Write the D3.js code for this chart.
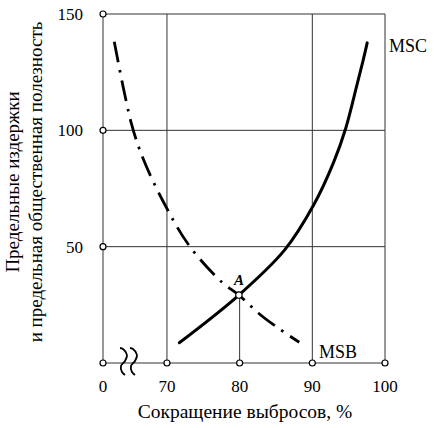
<!DOCTYPE html>
<html>
<head>
<meta charset="utf-8">
<script src="https://cdn.jsdelivr.net/npm/d3@7"></script>
<style>
  body { margin: 0; background: #fff; }
  svg { display: block; }
  text { font-family: "Liberation Serif", "Times New Roman", "DejaVu Serif", serif; }
</style>
</head>
<body>
<svg id="chart" width="434" height="428"></svg>
<script>
// x ticks (the 0 tick sits at the axis break)
var xTicks = [0, 70, 80, 90, 100];
var yTicks = [0, 50, 100, 150];

// marginal social cost
var mscX = [71.7, 79.9, 86.2, 90.2, 92.9, 94.6, 96.1, 97.0, 97.55];
var mscY = [8.7, 29.2, 48.6, 68.0, 86.0, 100.9, 119.0, 130.2, 137.6];

// marginal social benefit
var msbX = [62.75, 65.1, 66.7, 69.5, 73.0, 77.5, 79.9, 82.6, 85.3, 88.2];
var msbY = [138.1, 103.0, 88.0, 69.3, 50.7, 34.9, 29.2, 21.4, 15.0, 8.9];

// equilibrium point A
var pointA = {x: 79.9, y: 29.2};

var xBreak = 61.2;  // everything left of this collapses onto the y axis

var svg = d3.select("#chart");

var x = d3.scaleLinear().domain([0, xBreak, 100]).range([103, 103, 385]);
var y = d3.scaleLinear().domain([0, 150]).range([363, 14]);

var grid = svg.append("g")
    .attr("stroke", "#333")
    .attr("stroke-width", 1);

// horizontal grid lines
grid.selectAll("line.h")
    .data(yTicks)
    .join("line")
      .attr("class", "h")
      .attr("x1", x(0)).attr("x2", x(100))
      .attr("y1", d => y(d)).attr("y2", d => y(d));

// vertical grid lines (80 only rises to point A)
grid.selectAll("line.v")
    .data(xTicks)
    .join("line")
      .attr("class", "v")
      .attr("x1", d => x(d)).attr("x2", d => x(d))
      .attr("y1", y(0))
      .attr("y2", d => d == 80 ? y(pointA.y) : y(150));

// break marks on the x axis
var squiggle = d3.line().curve(d3.curveCatmullRom);
var sq = [[-4, -14], [-1, -13], [3, -7], [1, -1], [-3, 4], [-2, 10], [1, 13]];
svg.append("g")
    .attr("fill", "none")
    .attr("stroke", "#000")
    .attr("stroke-width", 1.8)
  .selectAll("path")
    .data([124, 134])
    .join("path")
      .attr("d", cx => squiggle(sq.map(p => [cx + p[0], y(0) - 1 + p[1]])));

// curves
var line = d3.line()
    .x(d => x(d[0]))
    .y(d => y(d[1]))
    .curve(d3.curveCatmullRom.alpha(0.5));

svg.append("path")
    .datum(d3.zip(mscX, mscY))
    .attr("fill", "none")
    .attr("stroke", "#000")
    .attr("stroke-width", 3)
    .attr("stroke-linecap", "round")
    .attr("d", line);

svg.append("path")
    .datum(d3.zip(msbX, msbY))
    .attr("fill", "none")
    .attr("stroke", "#000")
    .attr("stroke-width", 2.8)
    .attr("stroke-dasharray", "21,8,2.5,8")
    .attr("d", line);

// tick circles
var circles = svg.append("g")
    .attr("fill", "#fff")
    .attr("stroke", "#000")
    .attr("stroke-width", 1.2);

circles.selectAll("circle.y")
    .data(yTicks)
    .join("circle")
      .attr("class", "y")
      .attr("cx", x(0))
      .attr("cy", d => y(d))
      .attr("r", 3);

circles.selectAll("circle.x")
    .data(xTicks.slice(1))
    .join("circle")
      .attr("class", "x")
      .attr("cx", d => x(d))
      .attr("cy", y(0))
      .attr("r", 3);

circles.append("circle")
    .attr("cx", x(pointA.x))
    .attr("cy", y(pointA.y))
    .attr("r", 3.2);

// tick labels
svg.append("g")
    .attr("font-size", 17)
    .attr("text-anchor", "end")
  .selectAll("text")
    .data(yTicks.slice(1))
    .join("text")
      .attr("x", 83)
      .attr("y", d => y(d) + 6)
      .text(d => d);

svg.append("g")
    .attr("font-size", 17)
    .attr("text-anchor", "middle")
  .selectAll("text")
    .data(xTicks)
    .join("text")
      .attr("x", d => x(d))
      .attr("y", 392)
      .text(d => d);

// curve labels
svg.append("text")
    .attr("x", 389).attr("y", 52)
    .attr("font-size", 18)
    .text("MSC");

svg.append("text")
    .attr("x", 319).attr("y", 358)
    .attr("font-size", 18)
    .text("MSB");

svg.append("text")
    .attr("x", x(pointA.x)).attr("y", 285)
    .attr("text-anchor", "middle")
    .attr("font-size", 15)
    .attr("font-style", "italic").attr("font-weight", "bold")
    .text("A");

// axis titles
svg.append("text")
    .attr("x", 245).attr("y", 418)
    .attr("text-anchor", "middle")
    .attr("font-size", 19.5)
    .text("Сокращение выбросов, %");

svg.append("text")
    .attr("transform", "translate(19,182) rotate(-90)")
    .attr("text-anchor", "middle")
    .attr("font-size", 19)
    .text("Предельные издержки");

svg.append("text")
    .attr("transform", "translate(42,182) rotate(-90)")
    .attr("text-anchor", "middle")
    .attr("font-size", 19)
    .text("и предельная общественная полезность");
</script>
</body>
</html>
